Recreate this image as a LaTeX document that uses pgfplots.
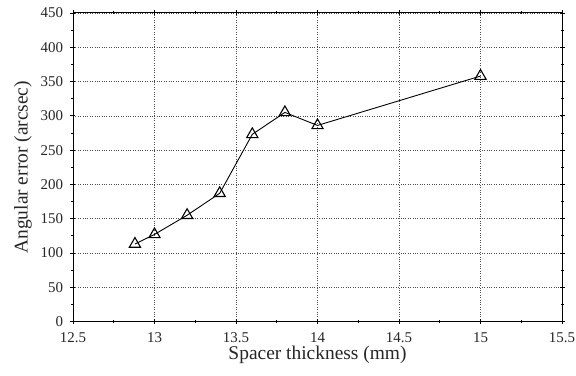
\documentclass[border=0pt]{standalone}
\usepackage{fontspec}
\setmainfont{Liberation Serif}
\usepackage{pgfplots}
\pgfplotsset{compat=1.18}
\begin{document}
\begin{tikzpicture}
\path[use as bounding box] (-73bp,-54.5bp) rectangle (503bp,321.5bp);
\begin{axis}[
  scale only axis,
  width=489bp, height=308.5bp,
  at={(0,0)}, anchor=south west,
  xmin=12.5, xmax=15.5, ymin=0, ymax=450,
  xtick={12.5,13,13.5,14,14.5,15,15.5},
  xticklabels={12.5,13,13.5,14,14.5,15,15.5},
  ytick={0,50,...,450},
  minor x tick num=1, minor y tick num=1,
  tick align=center,
  major tick length=5bp, minor tick length=3bp,
  tick style={black, line width=0.8pt},
  grid=major,
  major grid style={black!70, dotted, line width=0.6pt},
  axis line style={line width=1pt},
  /pgf/number format/assume math mode=true,
  ticklabel style={font=\fontsize{15}{16}\selectfont, text=black!85},
  xticklabel style={yshift=-5bp},
  yticklabel style={xshift=-4bp},
  xlabel={Spacer thickness (mm)},
  ylabel={Angular error (arcsec)},
  label style={font=\fontsize{19.5}{21}\selectfont, text=black!85},
  xlabel style={yshift=3bp},
  ylabel style={yshift=2bp},
]
\addplot[black, line width=0.9pt, mark=triangle, mark size=6.5pt, mark options={line width=1.1pt, fill=white}]
coordinates {
(12.88,113) (13.0,127) (13.2,155) (13.4,187) (13.6,273) (13.8,305) (14.0,286) (15.0,358)
};
\end{axis}
\end{tikzpicture}
\end{document}
